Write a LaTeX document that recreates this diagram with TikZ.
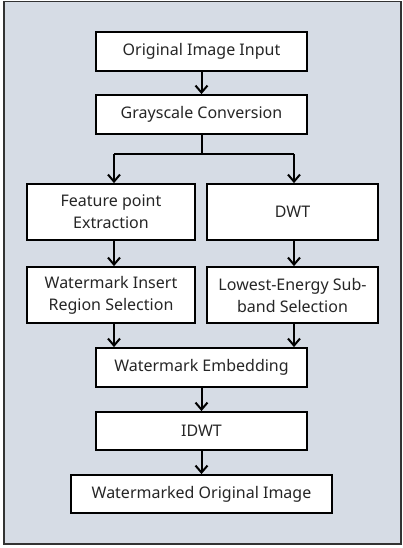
\documentclass[tikz,border=0pt]{standalone}
\usepackage{fontspec}
\setmainfont{Noto Sans}
\usetikzlibrary{arrows.meta}
\definecolor{bgc}{HTML}{D6DCE5}
\begin{document}
\begin{tikzpicture}[x=1pt,y=-1pt,
  box/.style={draw=black,line width=1.8pt,fill=white,minimum width=211pt,minimum height=39pt,inner sep=0pt,align=center,font=\fontsize{16}{22}\selectfont,text=black!85},
  halfL/.style={box,minimum width=168pt,minimum height=56pt},
  halfR/.style={box,minimum width=171pt,minimum height=56pt},
  conn/.style={line width=2pt,draw=black},
  arr/.style={conn,-{Straight Barb[length=7pt,width=12pt,line width=2pt]}}]
\useasboundingbox (0,0) rectangle (402,548);
\draw[fill=bgc,draw=black!80,line width=1.5pt] (4,1.5) rectangle (401,544);
\node[box] (in) at (201.5,51.5) {Original Image Input};
\node[box] (gc) at (201.5,114.5) {Grayscale Conversion};
\node[halfL] (fe) at (111,212) {Feature point\\Extraction};
\node[halfR] (dwt) at (292.5,212) {DWT};
\node[halfL] (wi) at (111,295) {Watermark Insert\\Region Selection};
\node[halfR] (le) at (292.5,295) {Lowest-Energy Sub-\\band Selection};
\node[box] (we) at (201.5,367.5) {Watermark Embedding};
\node[box,minimum height=38pt] (idwt) at (201.5,431) {IDWT};
\node[box,minimum width=261pt,minimum height=38pt] (out) at (201.5,494) {Watermarked Original Image};
\coordinate (split) at (201.5,154);
\coordinate (L) at (114,154);
\coordinate (R) at (294,154);
\draw[arr] (in) -- (gc);
\draw[conn] (gc) -- (split);
\draw[conn] (L) -- (R);
\draw[arr] (L) -- (fe.north -| L);
\draw[arr] (R) -- (dwt.north -| R);
\draw[arr] (fe.south -| L) -- (wi.north -| L);
\draw[arr] (dwt.south -| R) -- (le.north -| R);
\draw[arr] (wi.south -| L) -- (we.north -| L);
\draw[arr] (le.south -| R) -- (we.north -| R);
\draw[arr] (we) -- (idwt);
\draw[arr] (idwt) -- (out);
\end{tikzpicture}
\end{document}
